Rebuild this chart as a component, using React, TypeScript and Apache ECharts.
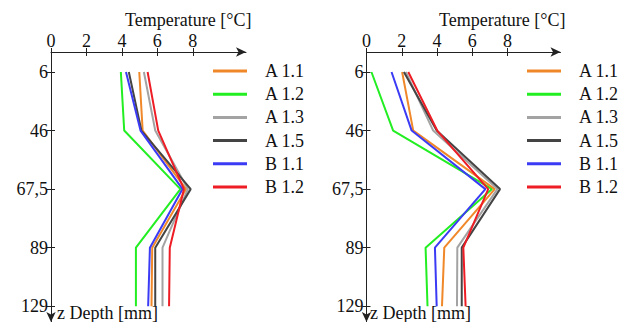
import React, { useEffect, useRef } from "react";
import * as echarts from "echarts";

const depths = ["6", "46", "67,5", "89", "129"];
const xTicks = [0, 2, 4, 6, 8];
const seriesNames = ["A 1.1", "A 1.2", "A 1.3", "A 1.5", "B 1.1", "B 1.2"];
const colors = ["#f0882a", "#22ee22", "#a3a3a3", "#444444", "#3b3bf5", "#ee1c24"];

// Left panel temperatures (°C) per depth
const leftA11 = [4.98, 5.17, 7.62, 5.71, 5.67];
const leftA12 = [3.94, 4.13, 7.3, 4.79, 4.79];
const leftA13 = [5.24, 5.88, 7.72, 6.29, 6.29];
const leftA15 = [4.39, 5.1, 7.88, 5.88, 5.88];
const leftB11 = [4.23, 5.05, 7.42, 5.58, 5.48];
const leftB12 = [5.45, 6.05, 7.5, 6.7, 6.66];

// Right panel temperatures (°C) per depth
const rightA11 = [2.02, 2.65, 7.27, 4.41, 4.28];
const rightA12 = [0.28, 1.51, 7.12, 3.35, 3.46];
const rightA13 = [2.23, 3.78, 7.42, 5.15, 5.13];
const rightA15 = [2.12, 3.98, 7.57, 5.4, 5.4];
const rightB11 = [1.42, 2.56, 6.74, 3.88, 3.98];
const rightB12 = [2.37, 4.01, 6.9, 5.49, 5.62];

const leftData = [leftA11, leftA12, leftA13, leftA15, leftB11, leftB12];
const rightData = [rightA11, rightA12, rightA13, rightA15, rightB11, rightB12];

const FONT = "Liberation Serif";

export default function App() {
  const ref = useRef<HTMLDivElement>(null);
  useEffect(() => {
    if (!ref.current) return;
    const chart = echarts.init(ref.current, undefined, { renderer: "svg" });
    const depthIdx = depths.map((_, i) => i);
    const grids = [
      { left: 51, top: 52, width: 195, height: 270 },
      { left: 366.5, top: 52, width: 194, height: 270 },
    ];
    const labelStyle = { fontFamily: FONT, fontSize: 18, color: "#111" };

    const mainX = (gi: number) => ({
      type: "value",
      gridIndex: gi,
      position: "top",
      min: 0,
      max: 11,
      axisLine: {
        show: true,
        onZero: false,
        lineStyle: { color: "#222", width: 1 },
        symbol: ["none", "arrow"],
        symbolSize: [7, 10],
      },
      axisTick: { show: true, length: 4, customValues: xTicks, lineStyle: { color: "#222" } },
      axisLabel: { show: true, customValues: xTicks, margin: 2, ...labelStyle },
      splitLine: { show: false },
    });
    const innerX = (gi: number) => ({
      type: "value",
      gridIndex: gi,
      position: "top",
      min: 0,
      max: 11,
      axisLine: { show: false, onZero: false },
      axisTick: { show: true, inside: true, length: 4, customValues: xTicks, lineStyle: { color: "#222" } },
      axisLabel: { show: false },
      splitLine: { show: false },
    });
    const mainY = (gi: number) => ({
      type: "value",
      gridIndex: gi,
      inverse: true,
      min: -0.342,
      max: 4.27,
      axisLine: {
        show: true,
        onZero: false,
        lineStyle: { color: "#222", width: 1 },
        symbol: ["arrow", "none"],
        symbolSize: [7, 10],
      },
      axisTick: { show: true, length: 4, customValues: depthIdx, lineStyle: { color: "#222" } },
      axisLabel: {
        show: true,
        customValues: depthIdx,
        margin: 3,
        formatter: (v: number) => depths[Math.round(v)] ?? "",
        ...labelStyle,
      },
      splitLine: { show: false },
    });
    const innerY = (gi: number) => ({
      type: "value",
      gridIndex: gi,
      inverse: true,
      min: -0.342,
      max: 4.27,
      axisLine: { show: false, onZero: false },
      axisTick: { show: true, inside: true, length: 4, customValues: depthIdx, lineStyle: { color: "#222" } },
      axisLabel: { show: false },
      splitLine: { show: false },
    });

    const makeSeries = (data: number[][], gi: number) =>
      data.map((vals, si) => ({
        type: "line",
        name: seriesNames[si],
        xAxisIndex: gi,
        yAxisIndex: gi,
        data: vals.map((t, di) => [t, di]),
        symbol: "none",
        showSymbol: false,
        lineStyle: { color: colors[si], width: 2 },
        itemStyle: { color: colors[si] },
        z: si === 1 ? 1 : 2,
      }));

    const legend = (left: number) => ({
      orient: "vertical",
      left,
      top: 62,
      padding: 0,
      icon: "rect",
      itemWidth: 34,
      itemHeight: 3,
      itemGap: 5.2,
      data: seriesNames,
      selectedMode: false,
      textStyle: { ...labelStyle, lineHeight: 18, padding: [0, 0, 0, 13] },
    });

    chart.setOption({
      animation: false,
      textStyle: { fontFamily: FONT, fontSize: 18 },
      grid: [grids[0], grids[1], grids[0], grids[1]],
      xAxis: [mainX(0), mainX(1), innerX(2), innerX(3)],
      yAxis: [mainY(0), mainY(1), innerY(2), innerY(3)],
      legend: [legend(213), legend(527)],
      series: [...makeSeries(leftData, 0), ...makeSeries(rightData, 1)],
      graphic: [
        { type: "text", left: 125, top: 11, style: { text: "Temperature [°C]", font: `18px '${FONT}'`, fill: "#111" } },
        { type: "text", left: 439, top: 11, style: { text: "Temperature [°C]", font: `18px '${FONT}'`, fill: "#111" } },
        { type: "text", left: 57, top: 304, style: { text: "z Depth [mm]", font: `18px '${FONT}'`, fill: "#111" } },
        { type: "text", left: 370, top: 304, style: { text: "z Depth [mm]", font: `18px '${FONT}'`, fill: "#111" } },
      ],
    });
    return () => chart.dispose();
  }, []);
  return <div ref={ref} style={{ width: 630, height: 322, position: "absolute", left: 0, top: 0 }} />;
}
